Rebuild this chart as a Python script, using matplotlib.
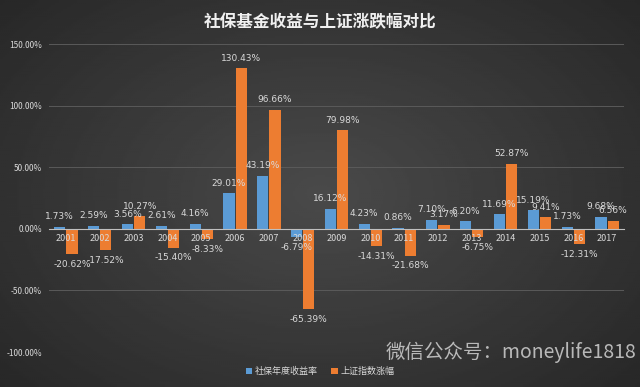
import numpy as np
import matplotlib
matplotlib.use('Agg')
import matplotlib.pyplot as plt
from matplotlib.ticker import FuncFormatter

plt.rcParams['font.family'] = ['Noto Sans CJK SC', 'DejaVu Sans']

years = ['2001', '2002', '2003', '2004', '2005', '2006', '2007', '2008', '2009',
         '2010', '2011', '2012', '2013', '2014', '2015', '2016', '2017']
ssf_return = [1.73, 2.59, 3.56, 2.61, 4.16, 29.01, 43.19, -6.79, 16.12,
              4.23, 0.86, 7.10, 6.20, 11.69, 15.19, 1.73, 9.68]
sh_index = [-20.62, -17.52, 10.27, -15.40, -8.33, 130.43, 96.66, -65.39, 79.98,
            -14.31, -21.68, 3.17, -6.75, 52.87, 9.41, -12.31, 6.56]
series_names = ['社保年度收益率', '上证指数涨幅']

blue = '#5b9bd5'
orange = '#ed7d31'
txt = '#d9d9d9'

fig = plt.figure(figsize=(6.4, 3.87), dpi=100)

# dark radial background
bg = fig.add_axes([0, 0, 1, 1])
yy, xx = np.mgrid[-1:1:200j, -1:1:320j]
r = np.sqrt(xx ** 2 + (yy * 0.9) ** 2)
bg.imshow(0.29 - 0.1 * r, cmap='gray', vmin=0, vmax=1, aspect='auto',
          extent=[0, 1, 0, 1])
bg.axis('off')

ax = fig.add_axes([49 / 640, 1 - 352 / 387, 575 / 640, 308 / 387])
ax.patch.set_alpha(0)

x = np.arange(len(years))
w = 0.33
off = 0.18
b1 = ax.bar(x - off, ssf_return, w, color=blue, label=series_names[0], zorder=2)
b2 = ax.bar(x + off, sh_index, w, color=orange, label=series_names[1], zorder=2)

for bars, vals in ((b1, ssf_return), (b2, sh_index)):
    for rect, v in zip(bars, vals):
        cx = rect.get_x() + rect.get_width() / 2
        ax.annotate(f'{v:.2f}%', (cx, v), xytext=(0, 4 if v >= 0 else -4),
                    textcoords='offset points', ha='center',
                    va='bottom' if v >= 0 else 'top', fontsize=6.5, color=txt,
                    family=['DejaVu Sans'], zorder=6)

ax.set_ylim(-100, 150)
ax.set_xlim(-0.5, len(years) - 0.5)
ax.set_yticks([-100, -50, 0, 50, 100, 150])
ax.yaxis.set_major_formatter(FuncFormatter(lambda v, p: f'{v:.2f}%'))
ax.set_axisbelow(True)
ax.grid(axis='y', color='#5a5a5a', linewidth=0.7)
ax.xaxis.set_zorder(5)
ax.set_xticks(x)
ax.set_xticklabels(years)
ax.tick_params(axis='both', length=0, colors=txt, labelsize=6.5)
ax.tick_params(axis='y', labelsize=6, pad=5)
ax.tick_params(axis='x', pad=4)
for s in ['top', 'right', 'left']:
    ax.spines[s].set_visible(False)
ax.spines['bottom'].set_position(('data', 0))
ax.spines['bottom'].set_color('#bfbfbf')
ax.spines['bottom'].set_zorder(5)

fig.text(0.5, 0.943, '社保基金收益与上证涨跌幅对比', ha='center', va='center',
         fontsize=12, fontweight='bold', color='#f0f0f0')

leg = fig.legend(loc='center', bbox_to_anchor=(0.5, 0.04), ncol=2, frameon=False,
                 fontsize=6.5, handlelength=0.7, handleheight=0.7,
                 handletextpad=0.3, columnspacing=1.5)
for t in leg.get_texts():
    t.set_color(txt)

fig.text(0.995, 0.09, '微信公众号：moneylife1818', ha='right', va='center',
         fontsize=14, color='#c8c8c8', alpha=0.9)

fig.savefig('out.png', dpi=100)
